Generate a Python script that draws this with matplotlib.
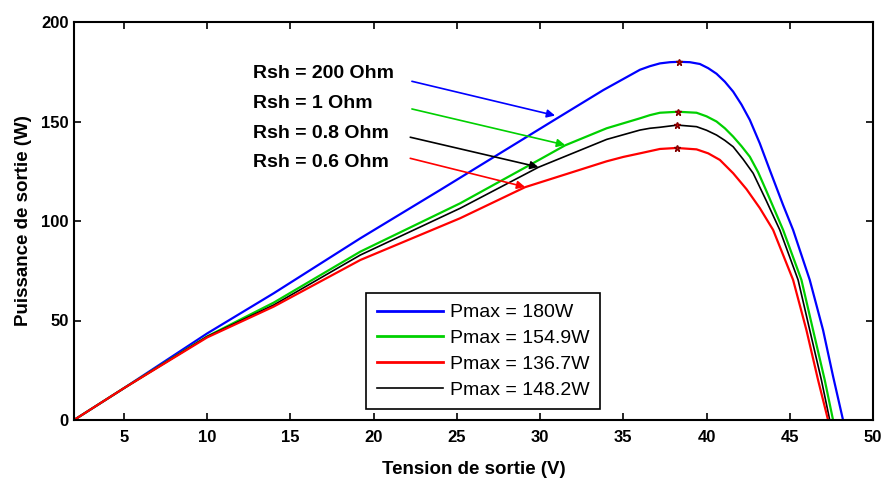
import matplotlib
matplotlib.use("Agg")
import matplotlib.pyplot as plt
from matplotlib.lines import Line2D

plt.rcParams['font.family'] = ['Liberation Sans', 'DejaVu Sans']

# P-V characteristics for several shunt resistances
v_rsh200 = [2, 5, 10, 14, 19.2, 24.0, 30.9, 33.8, 36.0, 36.6, 37.2, 37.8, 38.35, 39.0,
            39.6, 40.1, 40.6, 41.1, 41.6, 42.1, 42.6, 43.2, 43.8, 44.6, 45.2, 46.2,
            47.0, 47.6, 48.2]
p_rsh200 = [0, 16, 43.5, 63.7, 91.3, 115.6, 151, 165.8, 176, 177.8, 179.2, 179.8, 180,
            179.8, 178.9, 176.8, 174, 170, 165, 158.5, 150.8, 139, 125.6, 108, 95.5,
            70.4, 45.2, 22, 0]

v_rsh1 = [2, 5, 10, 14, 19.2, 25.2, 30.0, 31.5, 34.0, 36.0, 36.6, 37.2, 38.3, 39.4,
          40.0, 40.6, 41.1, 41.6, 42.1, 42.6, 43.1, 43.6, 44.6, 45.7, 46.4, 47.1, 47.6]
p_rsh1 = [0, 16, 42, 59, 84.6, 108.9, 131, 138, 146.6, 151.6, 153.2, 154.4, 154.9,
          154.4, 152.6, 150, 146.6, 142.4, 137.6, 132.3, 124.5, 115, 95.5, 70.4, 45.2,
          20.1, 0]

v_rsh08 = [2, 5, 10, 14, 19.2, 25.2, 29.9, 34.0, 36.0, 36.6, 37.2, 38.25, 39.4, 40.0,
           40.6, 41.1, 41.6, 42.2, 42.8, 43.6, 44.4, 45.5, 46.2, 46.9, 47.4]
p_rsh08 = [0, 16, 41.9, 57.8, 82.9, 106.4, 127, 141, 145.7, 146.6, 147.1, 148.2, 147.4,
           145.6, 143.2, 140.5, 137.3, 131, 124, 110, 95.5, 70.4, 45.2, 20.1, 0]

v_rsh06 = [2, 5, 10, 14, 19.2, 25.2, 29.1, 34.0, 35.0, 36.0, 37.2, 38.2, 39.4, 40.1,
           40.8, 41.6, 42.4, 43.2, 44.0, 45.2, 46.0, 46.7, 47.3]
p_rsh06 = [0, 16, 41.5, 57, 80.4, 101.4, 117, 130, 132.2, 134, 136.2, 136.7, 136.0,
           134, 130.7, 124, 116, 106.5, 95.5, 70.4, 45.2, 20.1, 0]

# maximum power points
v_mpp = [38.35, 38.3, 38.2, 38.25]
p_mpp = [180, 154.9, 136.7, 148.2]

legend_labels = ['Pmax = 180W', 'Pmax = 154.9W', 'Pmax = 136.7W', 'Pmax = 148.2W']
rsh_labels = ['Rsh = 200 Ohm', 'Rsh = 1 Ohm', 'Rsh = 0.8 Ohm', 'Rsh = 0.6 Ohm']

# annotation text anchors and arrow tails / heads (data units)
label_x = 12.75
label_y = [173.9, 158.8, 144.0, 129.3]
arrow_tail = [(22.3, 170.2), (22.3, 156.3), (22.2, 142.1), (22.2, 131.5)]
arrow_head = [(30.9, 153.0), (31.5, 138.2), (29.9, 127.1), (29.1, 117.1)]

xticks = [5, 10, 15, 20, 25, 30, 35, 40, 45, 50]
yticks = [0, 50, 100, 150, 200]

BLUE = '#0000ff'
GREEN = '#00d000'
RED = '#ff0000'
BLACK = '#000000'

fig = plt.figure(figsize=(8.86, 4.80), dpi=100)
ax = fig.add_axes([74 / 886, 60 / 480, 799 / 886, 398 / 480])

ax.plot(v_rsh200, p_rsh200, color=BLUE, lw=1.6)
ax.plot(v_rsh1, p_rsh1, color=GREEN, lw=1.6)
ax.plot(v_rsh08, p_rsh08, color=BLACK, lw=1.2)
ax.plot(v_rsh06, p_rsh06, color=RED, lw=1.6)

ax.plot(v_mpp, p_mpp, linestyle='none', marker='*', color=RED,
        markeredgecolor='#800000', markersize=5, zorder=5)

arrow_colors = [BLUE, GREEN, BLACK, RED]
for txt, ty, tail, head, col in zip(rsh_labels, label_y, arrow_tail, arrow_head, arrow_colors):
    ax.text(label_x, ty, txt, ha='left', va='center', fontsize=14,
            fontweight='bold', color='black')
    ax.annotate('', xy=head, xytext=tail,
                arrowprops=dict(arrowstyle='-|>', color=col, lw=1.2,
                                mutation_scale=12, shrinkA=0, shrinkB=0))

ax.set_xlim(2, 50)
ax.set_ylim(0, 200)
ax.set_xticks(xticks)
ax.set_yticks(yticks)
ax.tick_params(direction='in', length=5, width=1.2, top=True, right=True,
               labelsize=12)
ax.tick_params(axis='x', pad=7)
ax.tick_params(axis='y', pad=4)
for lab in ax.get_xticklabels() + ax.get_yticklabels():
    lab.set_fontweight('bold')
for sp in ax.spines.values():
    sp.set_linewidth(1.5)

ax.set_xlabel('Tension de sortie (V)', fontsize=13.5, fontweight='bold', labelpad=12)
ax.set_ylabel('Puissance de sortie (W)', fontsize=13.5, fontweight='bold', labelpad=6)

handles = [Line2D([], [], color=BLUE, lw=2),
           Line2D([], [], color=GREEN, lw=2),
           Line2D([], [], color=RED, lw=2),
           Line2D([], [], color=BLACK, lw=1.2)]
leg = ax.legend(handles, legend_labels, loc='upper left',
                bbox_to_anchor=(292 / 799, 127 / 398), borderaxespad=0,
                fontsize=14, handlelength=3.4, handletextpad=0.35,
                labelspacing=0.42, borderpad=0.55, fancybox=False,
                framealpha=1, edgecolor='black')
leg.get_frame().set_linewidth(1.2)

fig.savefig('out.png', dpi=100, facecolor='white')
